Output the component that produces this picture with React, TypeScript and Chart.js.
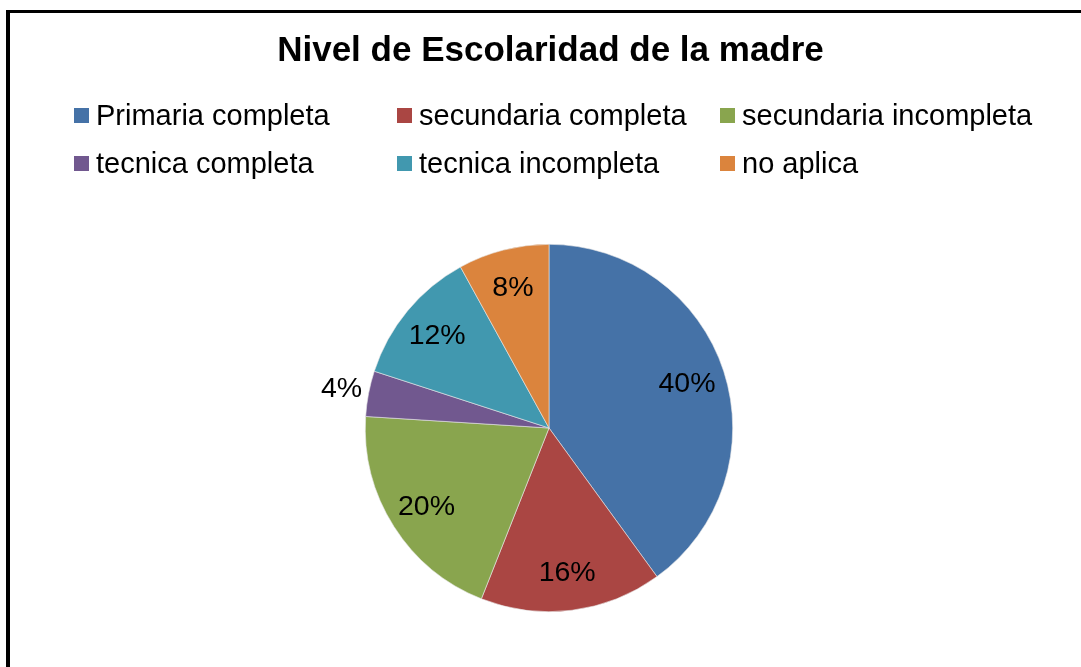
import React, { useEffect, useRef } from "react";
import { Chart, registerables } from "chart.js";

Chart.register(...registerables);

const TITLE = "Nivel de Escolaridad de la madre";
const categories = [
  "Primaria completa",
  "secundaria completa",
  "secundaria incompleta",
  "tecnica completa",
  "tecnica incompleta",
  "no aplica",
];
const percentValues = [40, 16, 20, 4, 12, 8];
const sliceColors = ["#4572A7", "#AA4643", "#89A54E", "#71588F", "#4198AF", "#DB843D"];

const W = 1081;
const H = 667;
const FONT = "'Liberation Sans', Arial, sans-serif";

const decorPlugin = {
  id: "decor",
  afterDraw(chart: any) {
    const ctx = chart.ctx as CanvasRenderingContext2D;
    ctx.save();
    // frame (cut off on right and bottom)
    ctx.fillStyle = "#000";
    ctx.fillRect(6, 10, 4, H - 10);
    ctx.fillRect(6, 10, W - 6, 3);

    // title
    ctx.font = `bold 35px ${FONT}`;
    ctx.textAlign = "center";
    ctx.textBaseline = "alphabetic";
    ctx.fillText(TITLE, 550.5, 61);

    // legend: 3 columns x 2 rows
    ctx.font = `29px ${FONT}`;
    ctx.textAlign = "left";
    const colX = [74, 397, 720];
    const rowBase = [125, 173];
    categories.forEach((label, i) => {
      const col = i % 3;
      const row = Math.floor(i / 3);
      const x = colX[col];
      const base = rowBase[row];
      ctx.fillStyle = sliceColors[i];
      ctx.fillRect(x, base - 17, 15, 15);
      ctx.fillStyle = "#000";
      ctx.fillText(label, x + 22, base);
    });

    // data labels
    const meta = chart.getDatasetMeta(0);
    ctx.font = `28.5px ${FONT}`;
    ctx.textAlign = "center";
    ctx.textBaseline = "middle";
    ctx.fillStyle = "#000";
    meta.data.forEach((arc: any, i: number) => {
      const p = arc.getProps(["x", "y", "startAngle", "endAngle", "outerRadius"], true);
      const mid = (p.startAngle + p.endAngle) / 2;
      const v = percentValues[i];
      const ratio = v < 5 ? 1.15 : 0.79;
      const lx = p.x + Math.cos(mid) * p.outerRadius * ratio;
      const ly = p.y + Math.sin(mid) * p.outerRadius * ratio;
      ctx.fillText(`${v}%`, lx, ly + 1);
    });
    ctx.restore();
  },
};

export default function App() {
  const ref = useRef<HTMLCanvasElement | null>(null);
  useEffect(() => {
    document.body.style.margin = "0";
    document.body.style.overflow = "hidden";
    const chart = new Chart(ref.current as HTMLCanvasElement, {
      type: "pie",
      data: {
        labels: categories,
        datasets: [
          {
            data: percentValues,
            backgroundColor: sliceColors,
            borderColor: "#e8e8e8",
            borderWidth: 0.6,
          },
        ],
      },
      options: {
        responsive: false,
        animation: false,
        events: [],
        layout: { padding: { left: 365, right: W - 733, top: 244, bottom: H - 612 } },
        plugins: {
          legend: { display: false },
          title: { display: false },
          tooltip: { enabled: false },
        },
      },
      plugins: [decorPlugin],
    });
    return () => chart.destroy();
  }, []);
  return (
    <div style={{ width: W, height: H, background: "#fff" }}>
      <canvas ref={ref} width={W} height={H} style={{ display: "block" }} />
    </div>
  );
}
